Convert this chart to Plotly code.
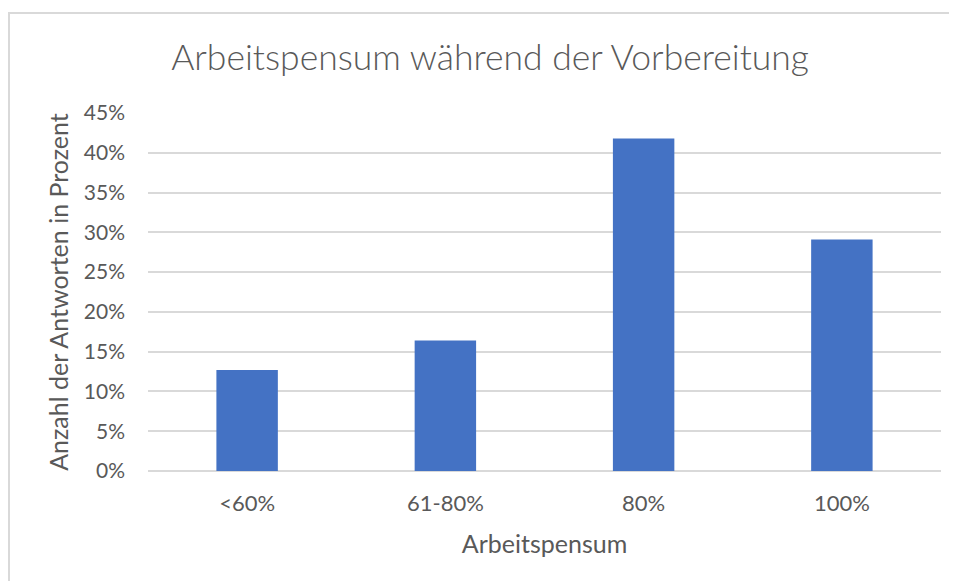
import plotly.graph_objects as go

# Antwortverteilung Arbeitspensum (Anteil in Prozent)
categories = ['<60%', '61-80%', '80%', '100%']
shares = [0.127, 0.164, 0.418, 0.291]
y_ticks = [0, 0.05, 0.10, 0.15, 0.20, 0.25, 0.30, 0.35, 0.40, 0.45]
y_tick_labels = ['0%', '5%', '10%', '15%', '20%', '25%', '30%', '35%', '40%', '45%']

text_color = '#595959'
grid_color = '#d9d9d9'
font_family = 'Lato, Open Sans, sans-serif'

fig = go.Figure()

fig.add_trace(go.Bar(
    x=categories,
    y=shares,
    marker=dict(color='#4472C4', line=dict(width=0)),
    hoverinfo='x+y'
))

# page body has an 8px margin, so the figure is a little smaller than the window
fig.update_layout(
    width=949,
    height=573,
    margin=dict(l=140, r=16, t=105, b=110),
    paper_bgcolor='white',
    plot_bgcolor='white',
    bargap=0.69,
    showlegend=False,
    font=dict(family=font_family, color=text_color, size=21),
    title=dict(
        text='Arbeitspensum während der Vorbereitung',
        x=0.508, xanchor='center',
        y=0.913, yanchor='middle',
        font=dict(family=font_family, size=35.5, color=text_color, weight=300)
    ),
    xaxis=dict(
        title=dict(text='Arbeitspensum', font=dict(size=25), standoff=20),
        showgrid=False,
        showline=False,
        ticks='',
        ticklabelstandoff=17,
        tickfont=dict(size=22),
    ),
    yaxis=dict(
        title=dict(text='Anzahl der Antworten in Prozent', font=dict(size=25), standoff=8),
        range=[0, 0.45],
        tickvals=y_ticks,
        ticktext=y_tick_labels,
        showgrid=True,
        gridcolor=grid_color,
        gridwidth=1.5,
        zeroline=True,
        zerolinecolor=grid_color,
        zerolinewidth=1.5,
        ticks='',
        ticklabelstandoff=22,
        tickfont=dict(size=21),
    ),
    shapes=[dict(
        type='rect', xref='paper', yref='paper',
        x0=-0.1753, x1=1.2, y0=-1.0, y1=1.2793,
        line=dict(color=grid_color, width=2),
        fillcolor='rgba(0,0,0,0)', layer='below'
    )]
)

fig.write_html('out.html')
